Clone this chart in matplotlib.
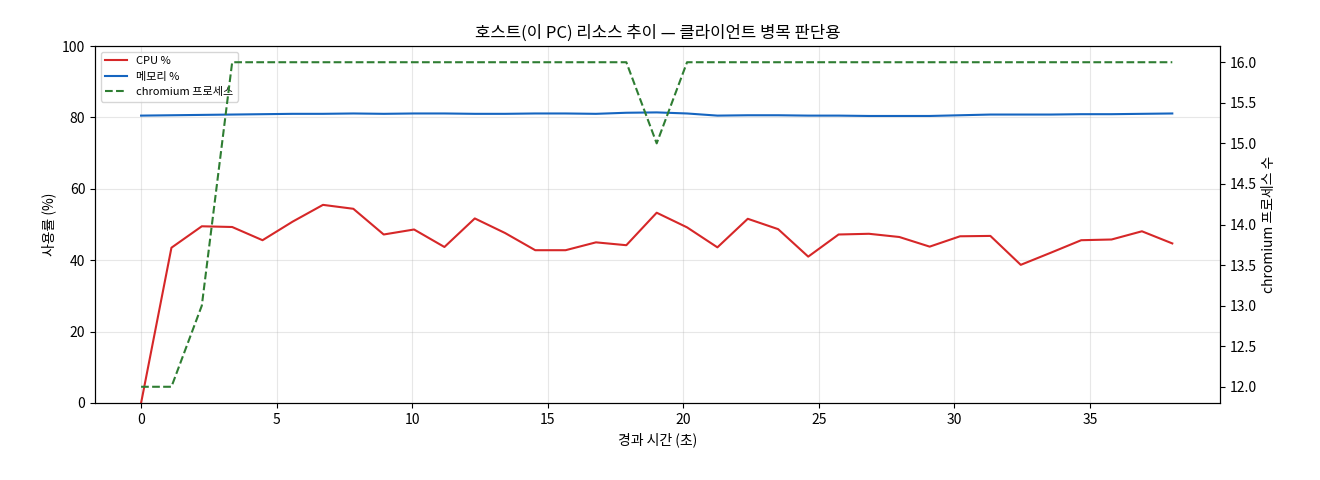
import matplotlib
matplotlib.use("Agg")
import matplotlib.pyplot as plt
import numpy as np

plt.rcParams['font.family'] = ['Noto Sans CJK KR', 'DejaVu Sans']

n = 35
t = [round(i * 38.04 / 34, 2) for i in range(n)]
cpu = [0, 43.5, 49.5, 49.3, 45.6, 50.8, 55.5, 54.4, 47.2, 48.6, 43.7, 51.7, 47.6, 42.8, 42.8, 45.0, 44.2,
       53.3, 49.2, 43.6, 51.6, 48.7, 41.0, 47.2, 47.4, 46.5, 43.8, 46.7, 46.8, 38.7, 42.1, 45.6, 45.8, 48.1, 44.7]
mem = [80.5, 80.6, 80.7, 80.8, 80.9, 81.0, 81.0, 81.1, 81.0, 81.1, 81.1, 81.0, 81.0, 81.1, 81.1, 81.0, 81.3,
       81.4, 81.1, 80.5, 80.6, 80.6, 80.5, 80.5, 80.4, 80.4, 80.4, 80.6, 80.8, 80.8, 80.8, 80.9, 80.9, 81.0, 81.1]
procs = [12, 12, 13, 16, 16, 16, 16, 16, 16, 16, 16, 16, 16, 16, 16, 16, 16,
         15, 16, 16, 16, 16, 16, 16, 16, 16, 16, 16, 16, 16, 16, 16, 16, 16, 16]

fig = plt.figure(figsize=(13.2, 4.8), dpi=100)
ax = fig.add_axes([95/1320, 1-403/480, (1220-95)/1320, (403-46)/480])
l1, = ax.plot(t, cpu, color='#d62728', lw=1.5, label='CPU %')
l2, = ax.plot(t, mem, color='#1565c0', lw=1.5, label='메모리 %')
ax.set_ylim(0, 100)
ax.set_xlim(-1.7, 39.8)
ax.grid(True, alpha=0.3)
ax.set_xlabel('경과 시간 (초)')
ax.set_ylabel('사용률 (%)')
ax.set_title('호스트(이 PC) 리소스 추이 — 클라이언트 병목 판단용')
ax2 = ax.twinx()
l3, = ax2.plot(t, procs, color='#2e7d32', lw=1.5, ls='--', label='chromium 프로세스')
ax2.set_ylim(11.8, 16.2)
ax2.set_ylabel('chromium 프로세스 수')
ax.legend(handles=[l1, l2, l3], loc='upper left', fontsize=8)
fig.savefig('out.png', dpi=100)
